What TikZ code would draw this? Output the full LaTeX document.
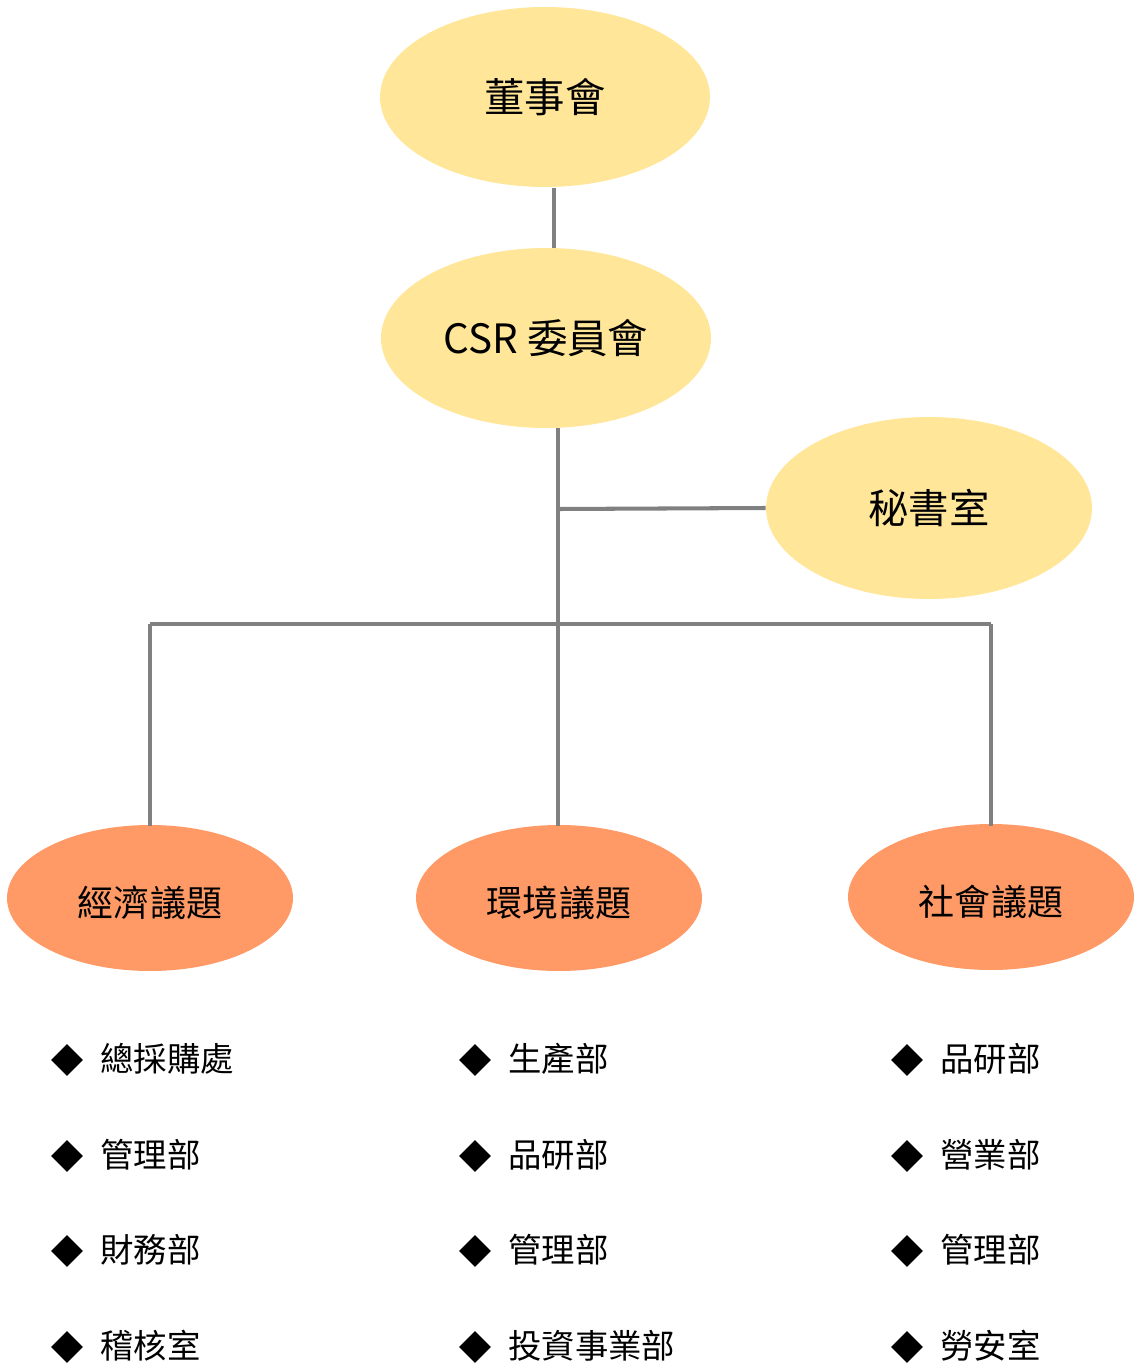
\documentclass[tikz,border=0pt]{standalone}
\usepackage{fontspec}
\setmainfont{Noto Sans CJK TC}
\usetikzlibrary{shapes.geometric}
\definecolor{ylw}{HTML}{FFE699}
\definecolor{org}{HTML}{FF9A66}
\definecolor{lin}{HTML}{808080}
\tikzset{
  topell/.style={ellipse, fill=ylw, draw=none, inner sep=0pt, minimum width=6.6cm, minimum height=3.6cm, font=\fontsize{23pt}{28pt}\selectfont},
  subell/.style={ellipse, fill=org, draw=none, inner sep=0pt, minimum width=5.72cm, minimum height=2.92cm, text height=24pt, text depth=2.5pt, font=\fontsize{20.5pt}{25pt}\selectfont},
  conn/.style={draw=lin, line width=2.3pt},
  bullet/.style={diamond, fill=black, draw=none, inner sep=0pt, minimum width=0.64cm, minimum height=0.64cm},
  item/.style={anchor=west, inner sep=0pt, font=\fontsize{19pt}{23pt}\selectfont}
}
\begin{document}
\begin{tikzpicture}[x=0.02cm,y=-0.02cm]
\useasboundingbox (0,0) rectangle (1136,1371);
\coordinate (c1) at (558,509);
\coordinate (c2) at (558,624);
\coordinate (cl) at (150,624);
\coordinate (cr) at (991,624);
\node[topell] (board) at (545,97) {董事會};
\node[topell] (csr) at (546,338) {CSR 委員會};
\node[topell, minimum width=6.52cm, minimum height=3.64cm] (sec) at (929,508) {秘書室};
\node[subell] (eco) at (150,898) {經濟議題};
\node[subell] (env) at (559,898) {環境議題};
\node[subell] (soc) at (991,897) {社會議題};
\draw[conn] (554,188) -- (554,248);
\draw[conn] (558,428) -- (c1) -- (c2) -- (558,826);
\draw[conn] (c1) -- (sec.west);
\draw[conn] (cl) -- (cr);
\draw[conn] (cl) -- (150,826);
\draw[conn] (cr) -- (991,826);
\foreach \x/\t/\a/\b/\c/\d in {67/100/總採購處/管理部/財務部/稽核室, 475/508/生產部/品研部/管理部/投資事業部, 907/940/品研部/營業部/管理部/勞安室}{
  \node[bullet] at (\x,1060) {}; \node[item] at (\t,1059) {\a};
  \node[bullet] at (\x,1156) {}; \node[item] at (\t,1155) {\b};
  \node[bullet] at (\x,1251) {}; \node[item] at (\t,1250) {\c};
  \node[bullet] at (\x,1347) {}; \node[item] at (\t,1346) {\d};
}
\end{tikzpicture}
\end{document}
